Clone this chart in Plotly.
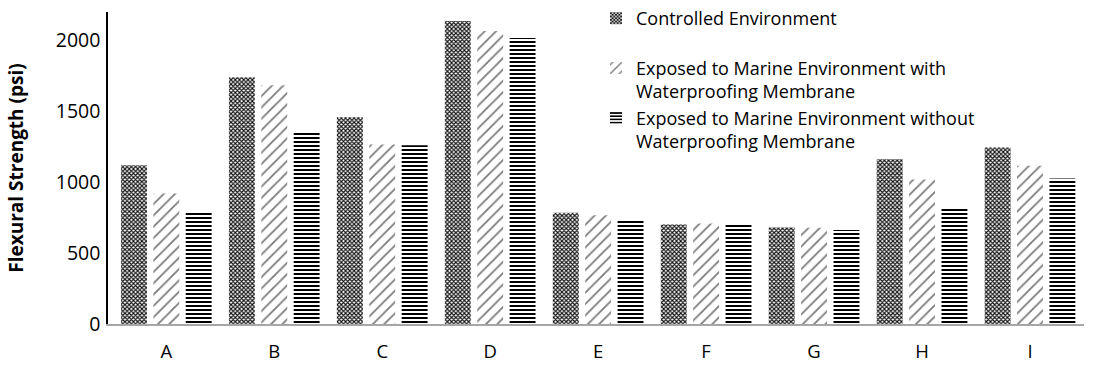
import plotly.graph_objects as go

categories = ["A", "B", "C", "D", "E", "F", "G", "H", "I"]
controlled = [1120, 1740, 1458, 2136, 784, 702, 681, 1162, 1244]
with_membrane = [920, 1683, 1266, 2066, 766, 709, 678, 1019, 1115]
without_membrane = [791, 1352, 1261, 2016, 728, 702, 662, 815, 1026]
y_ticks = [0, 500, 1000, 1500, 2000]

series_names = [
    "Controlled Environment<br> ",
    "Exposed to Marine Environment with<br>Waterproofing Membrane",
    "Exposed to Marine Environment without<br>Waterproofing Membrane",
]

fig = go.Figure()
fig.add_trace(go.Bar(
    x=categories, y=controlled, name=series_names[0],
    marker=dict(color="white", line=dict(width=0),
                pattern=dict(shape="x", fgcolor="#111111", bgcolor="white",
                             size=3, solidity=0.6, fillmode="replace")),
))
fig.add_trace(go.Bar(
    x=categories, y=with_membrane, name=series_names[1],
    marker=dict(color="white", line=dict(width=0),
                pattern=dict(shape="/", fgcolor="#7a7a7a", bgcolor="white",
                             size=8, solidity=0.22, fillmode="replace")),
))
fig.add_trace(go.Bar(
    x=categories, y=without_membrane, name=series_names[2],
    marker=dict(color="white", line=dict(width=0),
                pattern=dict(shape="-", fgcolor="#000000", bgcolor="white",
                             size=4, solidity=0.5, fillmode="replace")),
))

font_family = "Open Sans, Liberation Sans, sans-serif"

fig.update_layout(
    width=1094, height=371,
    margin=dict(l=108, r=10, t=12, b=47, autoexpand=False),
    paper_bgcolor="white", plot_bgcolor="white",
    barmode="group", bargap=0.1, bargroupgap=0.2,
    font=dict(family=font_family, size=18, color="#000000"),
    showlegend=True,
    legend=dict(x=0.5, y=1.0, xanchor="left", yanchor="top",
                xref="paper", yref="container",
                bgcolor="rgba(0,0,0,0)", valign="top",
                font=dict(size=18, color="#000000"),
                itemwidth=30),
)
fig.update_xaxes(
    range=[-0.54, 8.5], showgrid=False, showline=True,
    linecolor="#a6a6a6", linewidth=1.5, ticks="", automargin=False,
    ticklabelstandoff=10,
    tickfont=dict(size=18.5, color="#000000"),
)
fig.update_yaxes(
    range=[0, 2200], tickvals=y_ticks, showgrid=False, showline=True,
    linecolor="#000000", linewidth=1.5, ticks="", zeroline=False,
    automargin=False, ticklabelstandoff=2,
    tickfont=dict(size=19.5, color="#000000"),
    title=dict(text="<b>Flexural Strength (psi)</b>", font=dict(size=19), standoff=27),
)

fig.write_html("out.html", post_script="document.body.style.margin='0';",
               config={"displayModeBar": False})
